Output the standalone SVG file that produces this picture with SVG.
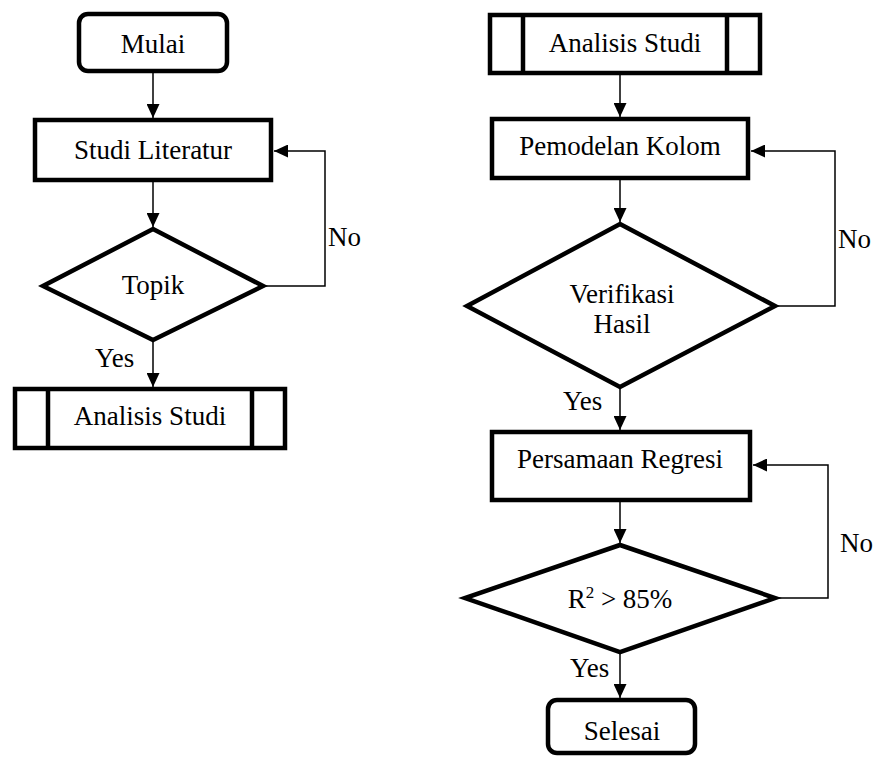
<svg xmlns="http://www.w3.org/2000/svg" width="878" height="757" viewBox="0 0 878 757" style="font-family:'Liberation Serif','Times New Roman',Times,serif">
<style>
.n{fill:#fff;stroke:#000;stroke-width:4.5;stroke-linejoin:miter;stroke-miterlimit:10}
.c{fill:none;stroke:#000;stroke-width:1.5}
text{font-family:'Liberation Serif','Times New Roman',Times,serif;font-size:27px;fill:#000}
.m{text-anchor:middle}
</style>
<defs>
<marker id="ah" markerUnits="userSpaceOnUse" markerWidth="14" markerHeight="13" refX="14" refY="6.5" orient="auto">
<path d="M0,0 L14,6.5 L0,13 z" fill="#000"/>
</marker>
</defs>
<rect width="878" height="757" fill="#fff"/>
<g id="connectors">
<path class="c" d="M153,72 L153,118" marker-end="url(#ah)"/>
<path class="c" d="M153,182 L153,227" marker-end="url(#ah)"/>
<path class="c" d="M263,286 L325,286 L325,151 L274,151" marker-end="url(#ah)"/>
<path class="c" d="M153,341 L153,387" marker-end="url(#ah)"/>
<path class="c" d="M620,75 L620,117" marker-end="url(#ah)"/>
<path class="c" d="M620,180 L620,222" marker-end="url(#ah)"/>
<path class="c" d="M775,306 L835,306 L835,151 L751,151" marker-end="url(#ah)"/>
<path class="c" d="M620,388 L620,430" marker-end="url(#ah)"/>
<path class="c" d="M775,598 L828,598 L828,465 L753,465" marker-end="url(#ah)"/>
<path class="c" d="M620,502 L620,543" marker-end="url(#ah)"/>
<path class="c" d="M620,653 L620,698" marker-end="url(#ah)"/>
<text x="328" y="246">No</text>
<text x="95" y="367">Yes</text>
<text x="838" y="248">No</text>
<text x="563" y="410">Yes</text>
<text x="840" y="552">No</text>
<text x="570" y="677">Yes</text>
</g>
<g id="mulai">
<rect class="n" x="79" y="14" width="148" height="57" rx="9"/>
<text class="m" x="153" y="53">Mulai</text>
</g>
<g id="studi-literatur">
<rect class="n" x="35" y="120" width="236" height="60"/>
<text class="m" x="153" y="159">Studi Literatur</text>
</g>
<g id="topik">
<polygon class="n" points="153,229 263,286 153,340 43,286"/>
<text class="m" x="153" y="294">Topik</text>
</g>
<g id="analisis-studi-1">
<rect class="n" x="15" y="389" width="270" height="59"/>
<line class="n" x1="48" y1="389" x2="48" y2="448"/>
<line class="n" x1="252" y1="389" x2="252" y2="448"/>
<text class="m" x="150" y="425">Analisis Studi</text>
</g>
<g id="analisis-studi-2">
<rect class="n" x="490" y="15" width="270" height="58"/>
<line class="n" x1="523" y1="15" x2="523" y2="73"/>
<line class="n" x1="727" y1="15" x2="727" y2="73"/>
<text class="m" x="625" y="52">Analisis Studi</text>
</g>
<g id="pemodelan-kolom">
<rect class="n" x="492" y="119" width="256" height="59"/>
<text class="m" x="620" y="155">Pemodelan Kolom</text>
</g>
<g id="verifikasi-hasil">
<polygon class="n" points="620,224 775,306 620,387 467,306"/>
<text class="m" x="622" y="303">Verifikasi</text>
<text class="m" x="622" y="333">Hasil</text>
</g>
<g id="persamaan-regresi">
<rect class="n" x="492" y="432" width="258" height="68"/>
<text class="m" x="620" y="468">Persamaan Regresi</text>
</g>
<g id="r2">
<polygon class="n" points="620,545 775,598 620,652 465,598"/>
<text class="m" x="620" y="608">R<tspan font-size="17" dy="-10">2</tspan><tspan dy="10"> &gt; 85%</tspan></text>
</g>
<g id="selesai">
<rect class="n" x="548" y="700" width="147" height="53" rx="9"/>
<text class="m" x="622" y="740">Selesai</text>
</g>
</svg>
